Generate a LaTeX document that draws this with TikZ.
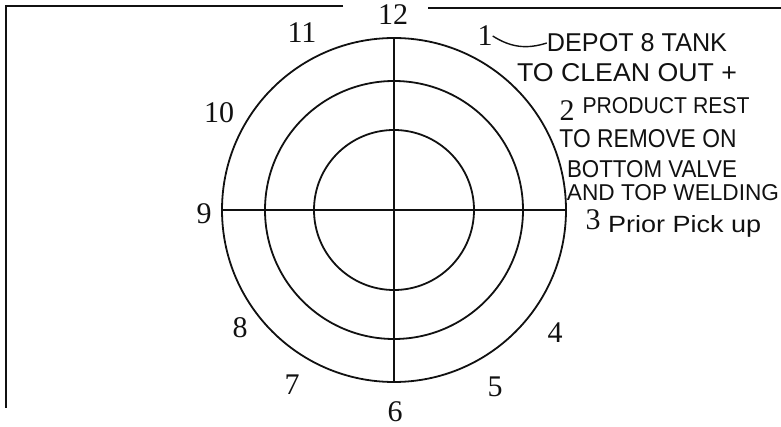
\documentclass[tikz,border=0pt]{standalone}
\usepackage{fontspec}
\setmainfont{Liberation Serif}
\newfontfamily\handfont{Liberation Sans}
\usetikzlibrary{positioning,calc}
\definecolor{dgInk}{HTML}{111111}
% handwritten line squeezed to the width and height of the scan
\newcommand{\hw}[3]{\resizebox{#1pt}{#2pt}{\handfont #3}}

\begin{document}
\begin{tikzpicture}[x=1pt,y=-1pt,
  ring/.style={draw=dgInk,line width=1.8pt},
  cross/.style={draw=dgInk,line width=1.3pt},
  frame/.style={draw=dgInk,line width=1.5pt},
  hour/.style={inner sep=0pt,text=dgInk,font=\fontsize{30}{30}\selectfont},
  note/.style={inner sep=0pt,text=dgInk},
]
\useasboundingbox (0,0) rectangle (781,427);
\coordinate (c) at (394,210);

% frame of the sheet
\coordinate (tl) at (6,6);
\coordinate (tm) at (343,6);
\coordinate (tr0) at (428,8);
\coordinate (tr1) at (781,8);
\coordinate (bl) at (6,408);
\draw[frame] (tm) -- (tl) -- (bl);
\draw[frame] (tr0) -- (tr1);

% target rings
\draw[ring] (c) circle (172);
\draw[ring] (c) circle (129);
\draw[ring] (c) circle (80);
\draw[cross] ($(c)+(-172,0)$) -- ($(c)+(172,0)$);
\draw[cross] ($(c)+(0,-172)$) -- ($(c)+(0,172)$);

% clock positions
\node[hour] (h12) at (393,15)  {12};
\node[hour] (h11) at (302,33)  {11};
\node[hour] (h1)  at (485,36)  {1};
\node[hour] (h10) at (219,113) {10};
\node[hour] (h2)  at (567,111) {2};
\node[hour] (h9)  at (204,214) {9};
\node[hour] (h3)  at (593,220) {3};
\node[hour] (h8)  at (240,328) {8};
\node[hour] (h4)  at (555,333) {4};
\node[hour] (h7)  at (292,385) {7};
\node[hour] (h5)  at (495,387) {5};
\node[hour] (h6)  at (395,412) {6};

% handwritten note
\node[note] (n1) at (637,43)  {\hw{180}{18}{DEPOT 8 TANK}};
\node[note] (n2) at (627,73)  {\hw{220}{18}{TO CLEAN OUT +}};
\node[note] (n3) at (666,106) {\hw{167}{16}{PRODUCT REST}};
\node[note] (n4) at (648,139) {\hw{177}{18}{TO REMOVE ON}};
\node[note] (n5) at (652,169) {\hw{170}{17}{BOTTOM VALVE}};
\node[note] (n6) at (673,193) {\hw{212}{16}{AND TOP WELDING}};
\node[note,anchor=west] (n7) at (608,226) {\hw{153}{17}{Prior Pick up}};

\draw[dgInk,line width=1.4pt] (h1.east) to[bend right=25] (n1.west);
\end{tikzpicture}
\end{document}
